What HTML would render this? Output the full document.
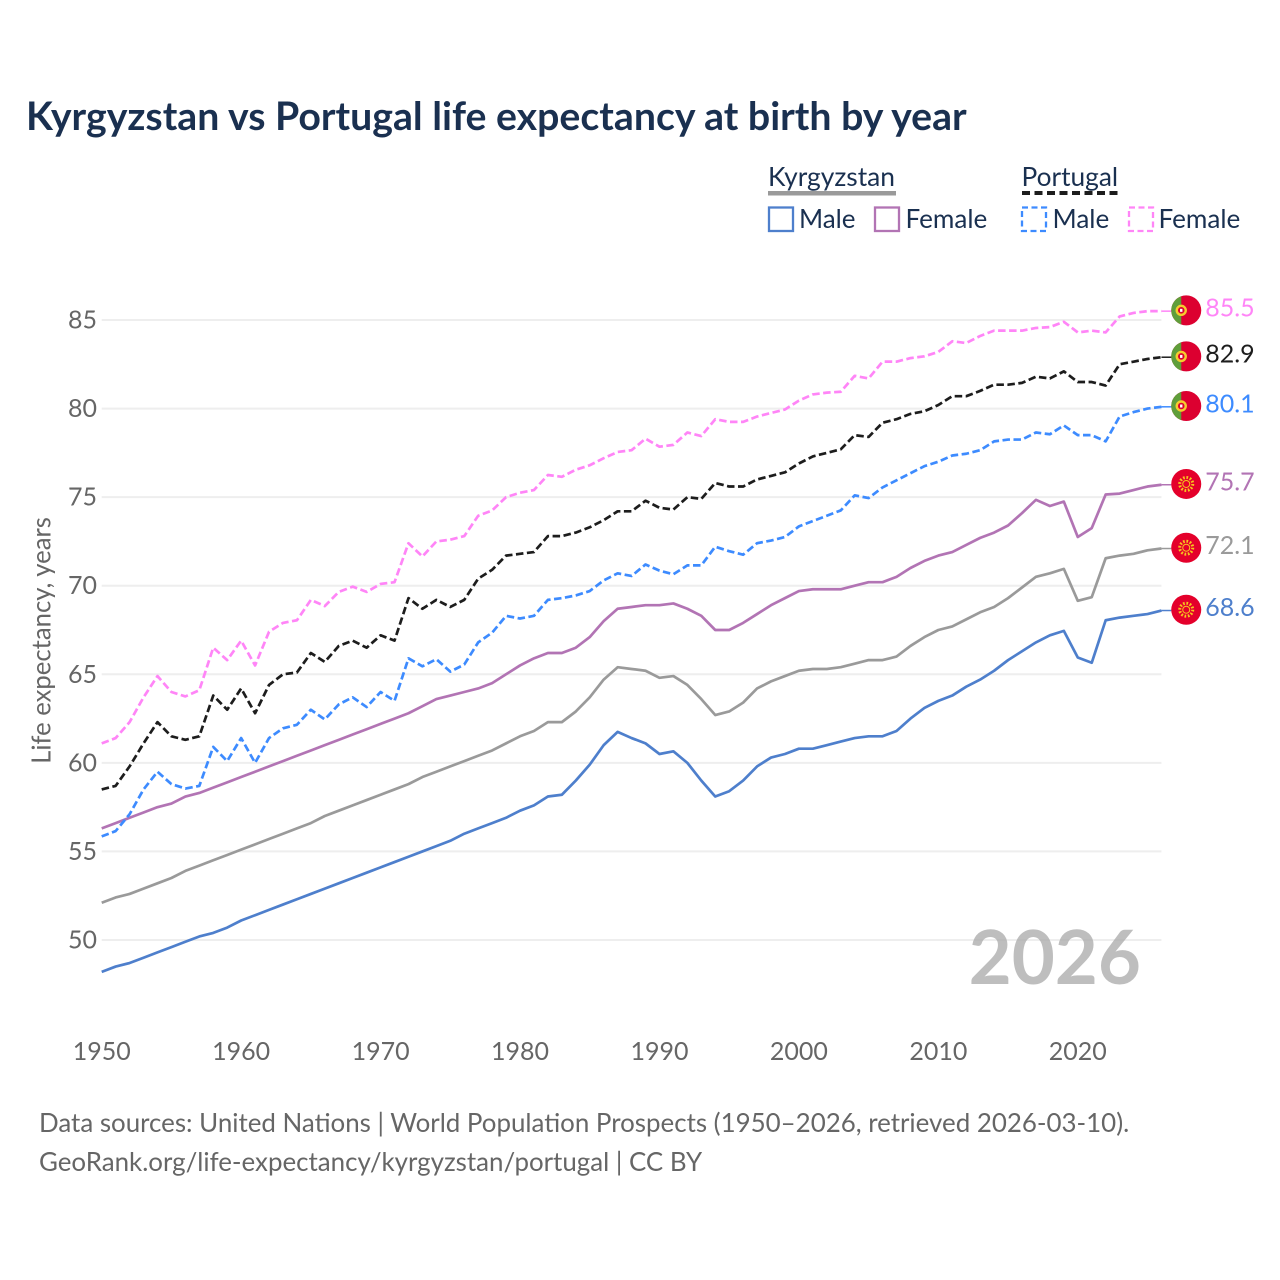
<!DOCTYPE html>
<html lang="en">
<head>
<meta charset="utf-8">
<title>Kyrgyzstan vs Portugal life expectancy at birth by year</title>
<style>
html,body{margin:0;padding:0;background:#fff;}
svg{display:block;}
text{font-family:"Lato","Carlito","Liberation Sans",sans-serif;}
</style>
</head>
<body>
<svg id="chart" xmlns="http://www.w3.org/2000/svg" width="1280" height="1280" viewBox="0 0 1280 1280">
  <rect x="0" y="0" width="1280" height="1280" fill="#ffffff"/>
  <text x="26" y="130" font-size="39.260" font-weight="700" fill="#1a3050">Kyrgyzstan vs Portugal life expectancy at birth by year</text>

  <g>
    <text x="768" y="186" font-size="26.400" fill="#1a3050">Kyrgyzstan</text>
    <rect x="768" y="191" width="128" height="4.500" fill="#9a9a9a"/>
    <text x="1021.500" y="186" font-size="26.300" fill="#1a3050">Portugal</text>
    <line x1="1022" y1="193" x2="1118" y2="193" stroke="#1d1d1d" stroke-width="4" stroke-dasharray="8 4.500"/>
    <rect x="769" y="207.500" width="24" height="23.500" fill="none" stroke="#4e7fcc" stroke-width="2.300"/>
    <text x="799" y="228" font-size="26" fill="#1a3050">Male</text>
    <rect x="875" y="207.500" width="24" height="23.500" fill="none" stroke="#b274b4" stroke-width="2.300"/>
    <text x="905.500" y="228" font-size="26.100" fill="#1a3050">Female</text>
    <rect x="1022" y="207.500" width="24" height="23.500" fill="none" stroke="#3d8bff" stroke-width="2.300" stroke-dasharray="6 3.500"/>
    <text x="1052.500" y="228" font-size="26.100" fill="#1a3050">Male</text>
    <rect x="1129" y="207.500" width="24" height="23.500" fill="none" stroke="#ff85f7" stroke-width="2.300" stroke-dasharray="6 3.500"/>
    <text x="1158.500" y="228" font-size="26.100" fill="#1a3050">Female</text>
  </g>

  <text transform="translate(50.500,640.500) rotate(-90)" text-anchor="middle" font-size="25.700" fill="#666666">Life expectancy, years</text>

  <g id="grid"></g>
  <g id="yTicks"></g>
  <g id="xTicks"></g>

  <text x="1141" y="984" text-anchor="end" font-size="74.300" font-weight="700" fill="#a8a8a8" fill-opacity="0.75">2026</text>

  <g id="lines"></g>
  <g id="ends"></g>

  <text x="39" y="1132" font-size="25.900" fill="#666666">Data sources: United Nations | World Population Prospects (1950–2026, retrieved 2026-03-10).</text>
  <text x="39" y="1171" font-size="25.900" fill="#666666">GeoRank.org/life-expectancy/kyrgyzstan/portugal | CC BY</text>
</svg>

<script>
var startYear = 1950;
var xTickLabels = [1950, 1960, 1970, 1980, 1990, 2000, 2010, 2020];
var yTickLabels = [50, 55, 60, 65, 70, 75, 80, 85];

var kgMale = [48.2,48.5,48.7,49.0,49.3,49.6,49.9,50.2,50.4,50.7,51.1,51.4,51.7,52.0,52.3,52.6,52.9,53.2,53.5,53.8,54.1,54.4,54.7,55.0,55.3,55.6,56.0,56.3,56.6,56.9,57.3,57.6,58.1,58.2,59.0,59.9,61.0,61.75,61.4,61.1,60.5,60.65,60.0,59.0,58.1,58.4,59.0,59.8,60.3,60.5,60.8,60.8,61.0,61.2,61.4,61.5,61.5,61.8,62.5,63.1,63.5,63.8,64.3,64.7,65.2,65.8,66.3,66.8,67.2,67.45,65.95,65.65,68.05,68.2,68.3,68.4,68.6];
var kgTotal = [52.1,52.4,52.6,52.9,53.2,53.5,53.9,54.2,54.5,54.8,55.1,55.4,55.7,56.0,56.3,56.6,57.0,57.3,57.6,57.9,58.2,58.5,58.8,59.2,59.5,59.8,60.1,60.4,60.7,61.1,61.5,61.8,62.3,62.3,62.9,63.7,64.7,65.4,65.3,65.2,64.8,64.9,64.4,63.6,62.7,62.9,63.4,64.2,64.6,64.9,65.2,65.3,65.3,65.4,65.6,65.8,65.8,66.0,66.6,67.1,67.5,67.7,68.1,68.5,68.8,69.3,69.9,70.5,70.7,70.95,69.15,69.35,71.55,71.7,71.8,72.0,72.1];
var kgFemale = [56.3,56.6,56.9,57.2,57.5,57.7,58.1,58.3,58.6,58.9,59.2,59.5,59.8,60.1,60.4,60.7,61.0,61.3,61.6,61.9,62.2,62.5,62.8,63.2,63.6,63.8,64.0,64.2,64.5,65.0,65.5,65.9,66.2,66.2,66.5,67.1,68.0,68.7,68.8,68.9,68.9,69.0,68.7,68.3,67.5,67.5,67.9,68.4,68.9,69.3,69.7,69.8,69.8,69.8,70.0,70.2,70.2,70.5,71.0,71.4,71.7,71.9,72.3,72.7,73.0,73.4,74.1,74.85,74.5,74.75,72.75,73.25,75.15,75.2,75.4,75.6,75.7];
var ptTotal = [58.5,58.7,59.8,61.1,62.3,61.5,61.3,61.5,63.8,63.0,64.2,62.8,64.4,65.0,65.1,66.2,65.7,66.6,66.9,66.5,67.2,66.9,69.3,68.7,69.2,68.8,69.2,70.4,70.9,71.7,71.8,71.9,72.8,72.8,73.0,73.3,73.7,74.2,74.2,74.8,74.4,74.3,75.0,74.9,75.8,75.6,75.6,76.0,76.2,76.4,76.9,77.3,77.5,77.7,78.5,78.4,79.2,79.4,79.7,79.85,80.2,80.7,80.7,81.0,81.35,81.35,81.45,81.8,81.7,82.1,81.5,81.5,81.3,82.5,82.65,82.8,82.9];
var ptMale = [55.85,56.15,57.1,58.5,59.5,58.8,58.55,58.7,60.9,60.1,61.4,60.0,61.4,61.95,62.15,63.0,62.45,63.3,63.7,63.15,64.0,63.5,65.9,65.45,65.85,65.15,65.55,66.8,67.35,68.3,68.15,68.3,69.2,69.3,69.45,69.7,70.3,70.7,70.55,71.2,70.85,70.65,71.15,71.15,72.2,71.95,71.75,72.4,72.55,72.75,73.35,73.65,73.95,74.25,75.1,74.95,75.55,75.95,76.35,76.75,77.0,77.35,77.45,77.65,78.15,78.25,78.25,78.65,78.55,79.05,78.5,78.5,78.15,79.55,79.8,80.0,80.1];
var ptFemale = [61.1,61.4,62.3,63.7,64.9,64.0,63.75,64.1,66.5,65.8,66.9,65.5,67.4,67.9,68.05,69.2,68.85,69.65,69.95,69.65,70.1,70.2,72.4,71.65,72.5,72.6,72.8,73.95,74.25,75.0,75.25,75.4,76.25,76.15,76.55,76.8,77.2,77.55,77.65,78.3,77.85,77.95,78.65,78.45,79.4,79.25,79.25,79.55,79.75,79.95,80.45,80.8,80.9,80.95,81.85,81.7,82.65,82.65,82.85,82.95,83.2,83.8,83.7,84.1,84.4,84.4,84.4,84.55,84.6,84.9,84.3,84.4,84.3,85.2,85.4,85.5,85.5];

var seriesValues = [kgMale, kgTotal, kgFemale, ptMale, ptTotal, ptFemale];
var seriesNames = ['kyrgyzstan-male', 'kyrgyzstan-total', 'kyrgyzstan-female', 'portugal-male', 'portugal-total', 'portugal-female'];
var seriesColors = ['#4e7fcc', '#9a9a9a', '#b274b4', '#3d8bff', '#1d1d1d', '#ff85f7'];
var seriesFlags = ['kg', 'kg', 'kg', 'pt', 'pt', 'pt'];

var SVGNS = 'http://www.w3.org/2000/svg';

function xScale(year) {
  return 101.7 + (year - 1950) * 13.944;
}
function yScale(value) {
  return 940 - (value - 50) * 17.714;
}
function make(tag, attrs, parent) {
  var node = document.createElementNS(SVGNS, tag);
  for (var k in attrs) { node.setAttribute(k, attrs[k]); }
  parent.appendChild(node);
  return node;
}

var gridGroup = document.getElementById('grid');
var yTickGroup = document.getElementById('yTicks');
var xTickGroup = document.getElementById('xTicks');
var lineGroup = document.getElementById('lines');
var endGroup = document.getElementById('ends');

yTickLabels.forEach(function (v) {
  var gl = make('line', {x1: 101.7, x2: xScale(2026), y1: yScale(v), y2: yScale(v), stroke: '#eeeeee', 'stroke-width': 2}, gridGroup);
  
  
  var t = make('text', {x: 97, y: yScale(v) + 8.500, 'text-anchor': 'end', 'font-size': 25, fill: '#666666'}, yTickGroup);
  
  
  t.textContent = v;
});

xTickLabels.forEach(function (yr) {
  var t = make('text', {x: xScale(yr), y: 1060, 'text-anchor': 'middle', 'font-size': 25, fill: '#666666'}, xTickGroup);
  
  
  t.textContent = yr;
});

function drawKgFlag(g, cx, cy) {
  make('circle', {cx: cx, cy: cy, r: 15, fill: '#e4002b'}, g);
  make('circle', {cx: cx, cy: cy, r: 6.500, fill: 'none', stroke: '#f7c51e', 'stroke-width': 3, 'stroke-dasharray': '1.700 1.700'}, g);
  make('circle', {cx: cx, cy: cy, r: 3.500, fill: '#e4002b', stroke: '#f7c51e', 'stroke-width': 1}, g);
}
function drawPtFlag(g, cx, cy) {
  make('circle', {cx: cx, cy: cy, r: 15, fill: '#dc0030'}, g);
  make('path', {d: 'M' + (cx - 5) + ' ' + (cy - 14.140) + 'A15 15 0 0 0 ' + (cx - 5) + ' ' + (cy + 14.140) + 'Z', fill: '#5f9e3a'}, g);
  make('circle', {cx: cx - 5, cy: cy, r: 4.500, fill: '#dc0030', stroke: '#f5cc2e', 'stroke-width': 2.400}, g);
  make('rect', {x: cx - 6.200, y: cy - 1.500, width: 2.400, height: 3, fill: '#ffffff'}, g);
}

seriesValues.forEach(function (vals, i) {
  var pts = vals.map(function (v, j) {
    return xScale(startYear + j).toFixed(2) + ',' + yScale(v).toFixed(2);
  }).join(' ');
  var dashed = i >= 3;
  var line = make('polyline', {points: pts, fill: 'none', stroke: seriesColors[i], 'stroke-width': 2.700, 'stroke-linejoin': 'round'}, lineGroup);
  if (dashed) { line.setAttribute('stroke-dasharray', '7.500 3.500'); }
  
  

  var last = vals[vals.length - 1];
  var lastX = xScale(startYear + vals.length - 1);
  var lastY = yScale(last);
  var stub = make('line', {x1: lastX, x2: lastX + 10, y1: lastY, y2: lastY, stroke: seriesColors[i], 'stroke-width': 1.500}, endGroup);
  
  

  var flag = make('g', {}, endGroup);
  
  
  if (seriesFlags[i] === 'kg') {
    drawKgFlag(flag, lastX + 24.800, lastY - 0.800);
  } else {
    drawPtFlag(flag, lastX + 24.800, lastY - 0.800);
  }

  var label = make('text', {x: lastX + 43.800, y: lastY + 5.500, 'font-size': 25, fill: seriesColors[i]}, endGroup);
  
  
  label.textContent = last.toFixed(1);
});
</script>
</body>
</html>
